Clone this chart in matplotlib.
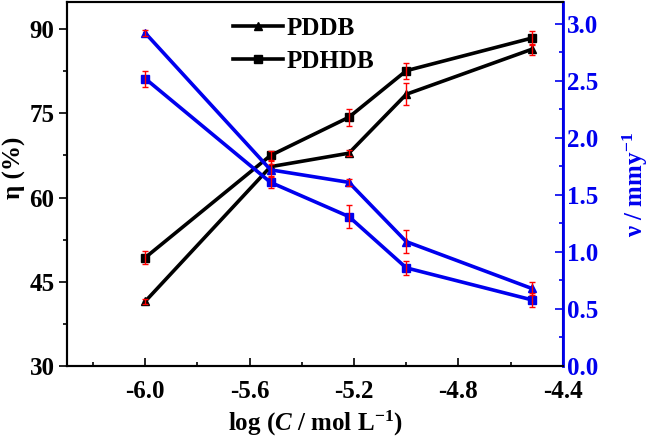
import matplotlib.pyplot as plt

plt.rcParams['font.family'] = 'Liberation Serif'
plt.rcParams['font.weight'] = 'bold'
plt.rcParams['mathtext.fontset'] = 'custom'
plt.rcParams['mathtext.rm'] = 'Liberation Serif:bold'
plt.rcParams['mathtext.it'] = 'Liberation Serif:italic:bold'
plt.rcParams['mathtext.bf'] = 'Liberation Serif:bold'

# log concentration
logc = [-6.0, -5.52, -5.22, -5.0, -4.52]

# inhibition efficiency (%)
eta_pddb = [41.5, 65.5, 67.9, 78.4, 86.4]
eta_pddb_err = [0.5, 1.0, 0.5, 2.0, 1.0]
eta_pdhdb = [49.3, 67.5, 74.3, 82.6, 88.4]
eta_pdhdb_err = [1.2, 0.8, 1.5, 1.4, 1.2]

# corrosion rate (mmy-1)
v_pddb = [2.92, 1.72, 1.61, 1.09, 0.68]
v_pddb_err = [0.03, 0.05, 0.03, 0.10, 0.06]
v_pdhdb = [2.52, 1.61, 1.31, 0.86, 0.58]
v_pdhdb_err = [0.07, 0.05, 0.10, 0.06, 0.06]

fig = plt.figure(figsize=(6.5, 4.43), dpi=100)
ax = fig.add_axes([0.103, 0.174, 0.763, 0.821])
ax2 = ax.twinx()

lw = 2.6
blue = '#0000ee'
l1, = ax.plot(logc, eta_pddb, color='k', lw=lw, marker='^', ms=6, zorder=3)
l2, = ax.plot(logc, eta_pdhdb, color='k', lw=lw, marker='s', ms=6, zorder=3)
ax.errorbar(logc, eta_pddb, yerr=eta_pddb_err, fmt='none', ecolor='red', elinewidth=1, capsize=2.5, zorder=4)
ax.errorbar(logc, eta_pdhdb, yerr=eta_pdhdb_err, fmt='none', ecolor='red', elinewidth=1, capsize=2.5, zorder=4)

ax2.plot(logc, v_pddb, color=blue, lw=lw, marker='^', ms=6, zorder=3)
ax2.plot(logc, v_pdhdb, color=blue, lw=lw, marker='s', ms=6, zorder=3)
ax2.errorbar(logc, v_pddb, yerr=v_pddb_err, fmt='none', ecolor='red', elinewidth=1, capsize=2.5, zorder=4)
ax2.errorbar(logc, v_pdhdb, yerr=v_pdhdb_err, fmt='none', ecolor='red', elinewidth=1, capsize=2.5, zorder=4)

ax.set_xlim(-6.3, -4.4)
ax.set_ylim(30, 94.8)
ax2.set_ylim(0, 3.19)

ax.set_xticks([-6.0, -5.6, -5.2, -4.8, -4.4])
ax.set_xticks([-6.2, -5.8, -5.4, -5.0, -4.6], minor=True)
ax.set_yticks([30, 45, 60, 75, 90])
ax.set_yticks([37.5, 52.5, 67.5, 82.5], minor=True)
ax2.set_yticks([0.0, 0.5, 1.0, 1.5, 2.0, 2.5, 3.0])
ax2.set_yticks([0.25, 0.75, 1.25, 1.75, 2.25, 2.75], minor=True)
ax.set_xticklabels(['-6.0', '-5.6', '-5.2', '-4.8', '-4.4'])
ax.set_yticklabels(['30', '45', '60', '75', '90'])
ax2.set_yticklabels(['0.0', '0.5', '1.0', '1.5', '2.0', '2.5', '3.0'])

ax.tick_params(axis='x', direction='in', length=6, width=1.2, labelsize=18, pad=10)
ax.tick_params(axis='x', which='minor', direction='in', length=3, width=1.2)
ax.tick_params(axis='y', direction='out', length=6, width=1.2, labelsize=18, pad=3)
ax.tick_params(axis='y', which='minor', direction='out', length=3, width=1.2)
ax2.tick_params(axis='y', direction='in', length=6, width=1.2, labelsize=18, colors=blue, pad=3)
ax2.tick_params(axis='y', which='minor', direction='in', length=3, width=1.2, colors=blue)

for s in ax.spines.values():
    s.set_linewidth(1.5)
for s in ax2.spines.values():
    s.set_linewidth(1.5)
ax2.spines['right'].set_color(blue)
ax2.spines['right'].set_linewidth(2)

ax.set_xlabel(r'log ($C$ / mol L$^{\mathbf{-1}}$)', fontsize=18, fontweight='bold', labelpad=4)
ax.set_ylabel('η (%)', fontsize=18, fontweight='bold')
ax.yaxis.set_label_coords(-0.083, 0.545)
ax2.set_ylabel(r'ν / mmy$^{\mathbf{-1}}$', fontsize=18, fontweight='bold', color=blue, labelpad=16)

ax.legend(handles=[l1, l2], labels=['PDDB', 'PDHDB'], loc='upper left',
          bbox_to_anchor=(0.305, 1.0), frameon=False, fontsize=18,
          handlelength=2.0, handletextpad=0.15, labelspacing=0.4, borderaxespad=0.2)

plt.savefig('out.png', dpi=100)
